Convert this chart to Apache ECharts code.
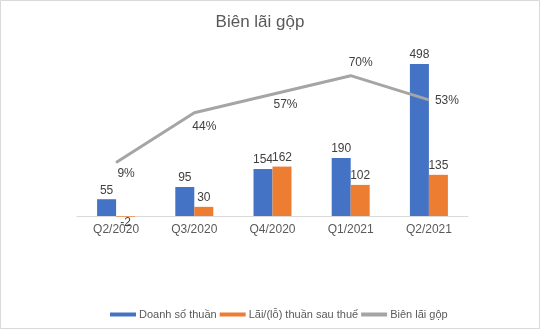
<!DOCTYPE html>
<html>
<head>
<meta charset="utf-8">
<script src="https://cdn.jsdelivr.net/npm/echarts@6/dist/echarts.min.js"></script>
<style>
html,body{margin:0;padding:0;background:#fff;}
#c{width:541px;height:332px;}
</style>
</head>
<body>
<div id="c"></div>
<script>
const categories = ['Q2/2020', 'Q3/2020', 'Q4/2020', 'Q1/2021', 'Q2/2021'];
const revenue = [55, 95, 154, 190, 498];
const netProfit = [-2, 30, 162, 102, 135];
const grossMargin = [0.09, 0.44, 0.57, 0.70, 0.53];
const seriesNames = ['Doanh số thuần', 'Lãi/(lỗ) thuần sau thuế', 'Biên lãi gộp'];

const FONT = 'Liberation Sans';
const marginLabelOffsets = [[10, 11], [10, 14], [13, 10], [10, -13], [18, 1]];

const chart = echarts.init(document.getElementById('c'));
chart.setOption({
  backgroundColor: '#fff',
  animation: false,
  textStyle: { fontFamily: FONT },
  title: {
    text: 'Biên lãi gộp',
    left: 255, textAlign: 'center', top: 9,
    textStyle: { fontFamily: FONT, fontSize: 17, fontWeight: 'normal', color: '#595959' }
  },
  graphic: [{
    type: 'rect', silent: true,
    shape: { x: 0.5, y: 0.5, width: 539, height: 328 },
    style: { fill: 'none', stroke: '#d9d9d9', lineWidth: 1 }
  }],
  legend: {
    left: 105, top: 304,
    itemWidth: 26, itemHeight: 4, itemGap: 3,
    icon: 'rect',
    textStyle: { fontFamily: FONT, fontSize: 11, color: '#595959', padding: [0, 0, 0, -2] },
    data: seriesNames
  },
  grid: { left: 77, right: 73, top: 33, bottom: 116 },
  xAxis: {
    type: 'category', data: categories,
    axisLine: { lineStyle: { color: '#d9d9d9', width: 1 } },
    axisTick: { show: false },
    axisLabel: { color: '#595959', fontSize: 12, margin: 8, fontFamily: FONT }
  },
  yAxis: [
    { type: 'value', min: 0, max: 600, show: false, splitLine: { show: false } },
    { type: 'value', min: -0.286, max: 1.0, show: false, splitLine: { show: false } }
  ],
  series: [
    {
      name: seriesNames[0], type: 'bar', data: revenue,
      barWidth: 19, barGap: '0%', clip: false,
      itemStyle: { color: '#4472c4' },
      label: { show: true, position: 'top', distance: 3, color: '#404040', fontSize: 12, fontFamily: FONT }
    },
    {
      name: seriesNames[1], type: 'bar', clip: false,
      data: netProfit.map(v => v < 0 ? { value: v, label: { position: 'bottom', distance: 0 } } : v),
      barWidth: 19,
      itemStyle: { color: '#ed7d31' },
      label: { show: true, position: 'top', distance: 3, color: '#404040', fontSize: 12, fontFamily: FONT }
    },
    {
      name: seriesNames[2], type: 'line', yAxisIndex: 1,
      data: grossMargin.map((v, i) => ({ value: v, label: { offset: marginLabelOffsets[i] } })),
      lineStyle: { color: '#a5a5a5', width: 3 },
      itemStyle: { color: '#a5a5a5' },
      symbol: 'circle', symbolSize: 1, showSymbol: true,
      label: {
        show: true, position: 'inside', color: '#404040', fontSize: 12, fontFamily: FONT,
        formatter: p => Math.round(p.value * 100) + '%'
      }
    }
  ]
});
</script>
</body>
</html>
